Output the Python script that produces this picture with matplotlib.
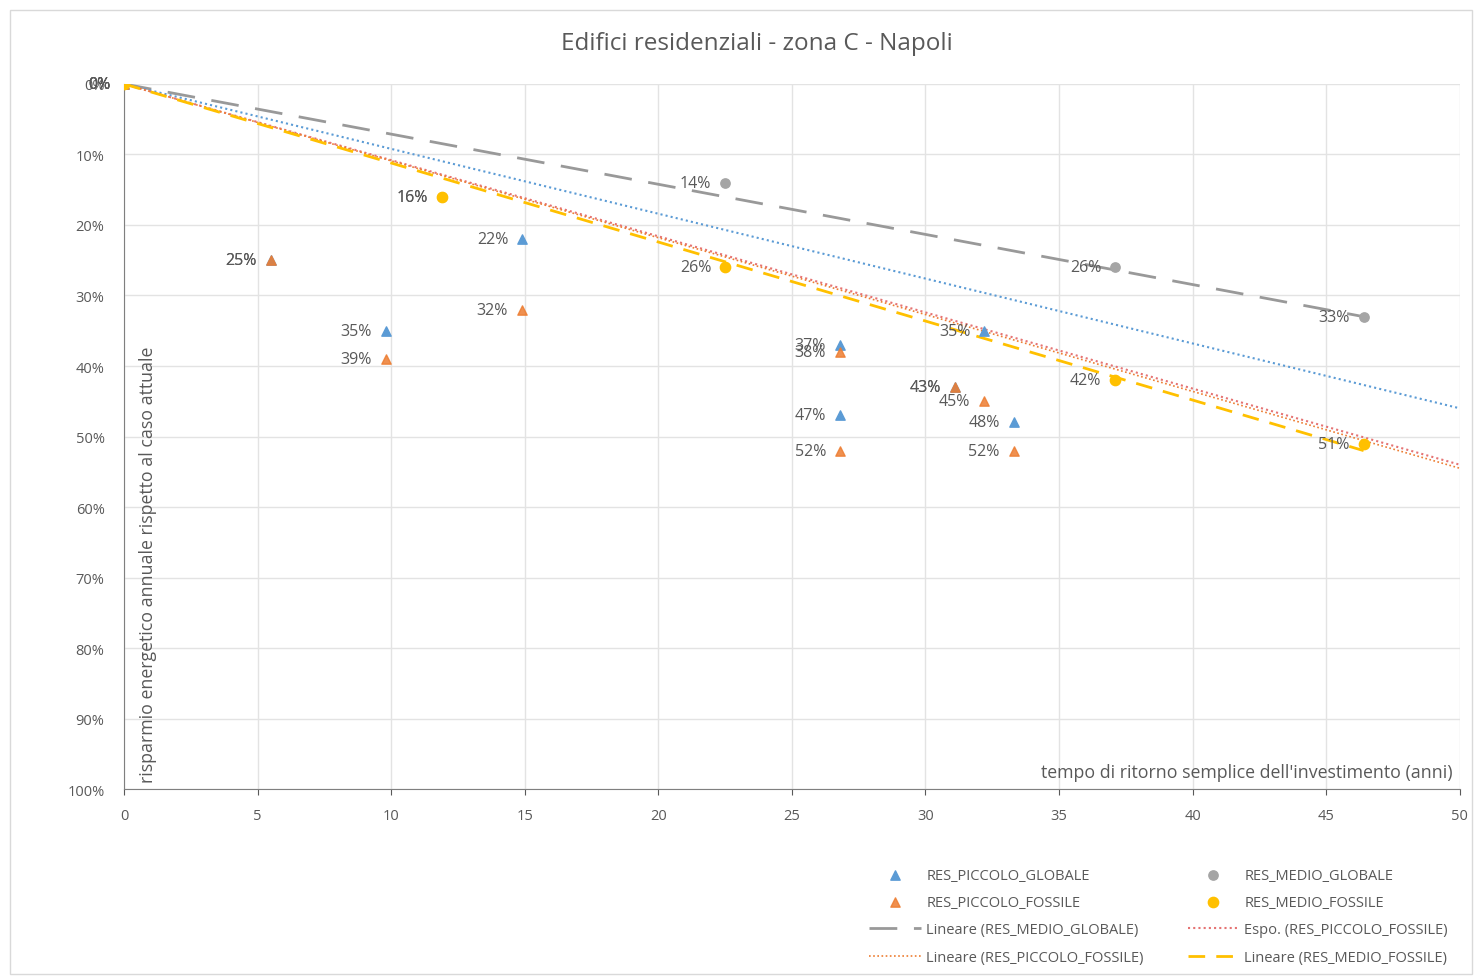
import matplotlib.pyplot as plt
from matplotlib.patches import Rectangle
import numpy as np

plt.rcParams['font.family'] = ['Open Sans', 'DejaVu Sans']

# data (x = years, y = % savings)
pg_x = [0, 5.5, 9.8, 14.9, 26.8, 26.8, 31.1, 32.2, 33.3]
pg_y = [0, 25, 35, 22, 37, 47, 43, 35, 48]
pf_x = [0, 5.5, 9.8, 14.9, 26.8, 26.8, 31.1, 32.2, 33.3]
pf_y = [0, 25, 39, 32, 38, 52, 43, 45, 52]
mg_x = [0, 11.9, 22.5, 37.1, 46.4]
mg_y = [0, 16, 14, 26, 33]
mf_x = [0, 11.9, 22.5, 37.1, 46.4]
mf_y = [0, 16, 26, 42, 51]

# trend lines as drawn on the chart (start/end)
trend_mg = ([0, 46.4], [0, 33])
trend_pg = ([0, 50], [0, 46])
trend_pf_lin = ([0, 50], [0, 54.5])
trend_pf_exp = ([0, 50], [0, 54])
trend_mf = ([0, 46.4], [0, 52])

c_blue = '#5B9BD5'
c_orange = '#ED7D31'
c_gray = '#A5A5A5'
c_yellow = '#FFC000'
c_text = '#595959'

fig = plt.figure(figsize=(14.76, 9.79), dpi=100)
fig.patches.append(Rectangle((0.007, 0.004), 0.99, 0.985, transform=fig.transFigure,
                             fill=False, edgecolor='#D9D9D9', linewidth=1))
ax = fig.add_axes([0.084, 0.193, 0.905, 0.7202])

# trend lines
ax.plot(*trend_mg, color='#999999', lw=2, dashes=(10, 6), label='Lineare (RES_MEDIO_GLOBALE)')
ax.plot(*trend_pg, color=c_blue, lw=1.5, ls=(0, (1, 1.5)))
ax.plot(*trend_pf_exp, color='#E57373', lw=1.5, ls=(0, (1, 1.5)), label='Espo. (RES_PICCOLO_FOSSILE)')
ax.plot(*trend_pf_lin, color=c_orange, lw=1.2, ls=(0, (1, 1.5)), label='Lineare (RES_PICCOLO_FOSSILE)')
ax.plot(*trend_mf, color=c_yellow, lw=2, dashes=(6, 4), label='Lineare (RES_MEDIO_FOSSILE)')

# series
ax.scatter(pg_x, pg_y, marker='^', s=45, color=c_blue, zorder=4, label='RES_PICCOLO_GLOBALE')
ax.scatter(pf_x, pf_y, marker='^', s=45, color=c_orange, alpha=0.85, zorder=5, label='RES_PICCOLO_FOSSILE')
ax.scatter(mg_x, mg_y, marker='o', s=45, color=c_gray, zorder=4, label='RES_MEDIO_GLOBALE')
ax.scatter(mf_x, mf_y, marker='o', s=55, color=c_yellow, zorder=5, label='RES_MEDIO_FOSSILE')

# data labels left of points
for xs, ys in [(pg_x, pg_y), (pf_x, pf_y), (mg_x, mg_y), (mf_x, mf_y)]:
    for x, y in zip(xs, ys):
        ax.annotate(f'{y}%', (x, y), xytext=(-10, 0), textcoords='offset points',
                    ha='right', va='center', fontsize=11.5, color=c_text, zorder=6)

ax.set_xlim(0, 50)
ax.set_ylim(100, 0)
ax.set_xticks(np.arange(0, 51, 5))
ax.set_yticks(np.arange(0, 101, 10))
ax.set_yticklabels([f'{v}%' for v in range(0, 101, 10)])
ax.tick_params(colors=c_text, labelsize=10.5, length=4)
ax.tick_params(axis='x', pad=10)
ax.tick_params(axis='y', length=0, pad=14)
ax.grid(color='#E3E3E3', lw=1)
ax.set_axisbelow(True)
for s in ['top', 'right']:
    ax.spines[s].set_visible(False)
for s in ['left', 'bottom']:
    ax.spines[s].set_color('#7F7F7F')

ax.text(0.011, 0.01, "risparmio energetico annuale rispetto al caso attuale", transform=ax.transAxes,
        rotation=90, ha='left', va='bottom', fontsize=12.8, color=c_text)
ax.text(0.995, 0.012, "tempo di ritorno semplice dell'investimento (anni)", transform=ax.transAxes,
        ha='right', va='bottom', fontsize=12.8, color=c_text)

fig.text(0.513, 0.955, 'Edifici residenziali - zona C - Napoli', ha='center', va='center',
         fontsize=17.5, color=c_text)

h, l = ax.get_legend_handles_labels()
d = dict(zip(l, h))
order = ['RES_PICCOLO_GLOBALE', 'RES_PICCOLO_FOSSILE', 'Lineare (RES_MEDIO_GLOBALE)',
         'Lineare (RES_PICCOLO_FOSSILE)', 'RES_MEDIO_GLOBALE', 'RES_MEDIO_FOSSILE',
         'Espo. (RES_PICCOLO_FOSSILE)', 'Lineare (RES_MEDIO_FOSSILE)']
fig.legend([d[k] for k in order], order, ncol=2, loc='lower right', bbox_to_anchor=(0.99, 0.0),
           frameon=False, fontsize=10.5, labelcolor=c_text, columnspacing=3, handlelength=3.5,
           handletextpad=0.4, labelspacing=0.85)

fig.savefig('out.png', dpi=100)
